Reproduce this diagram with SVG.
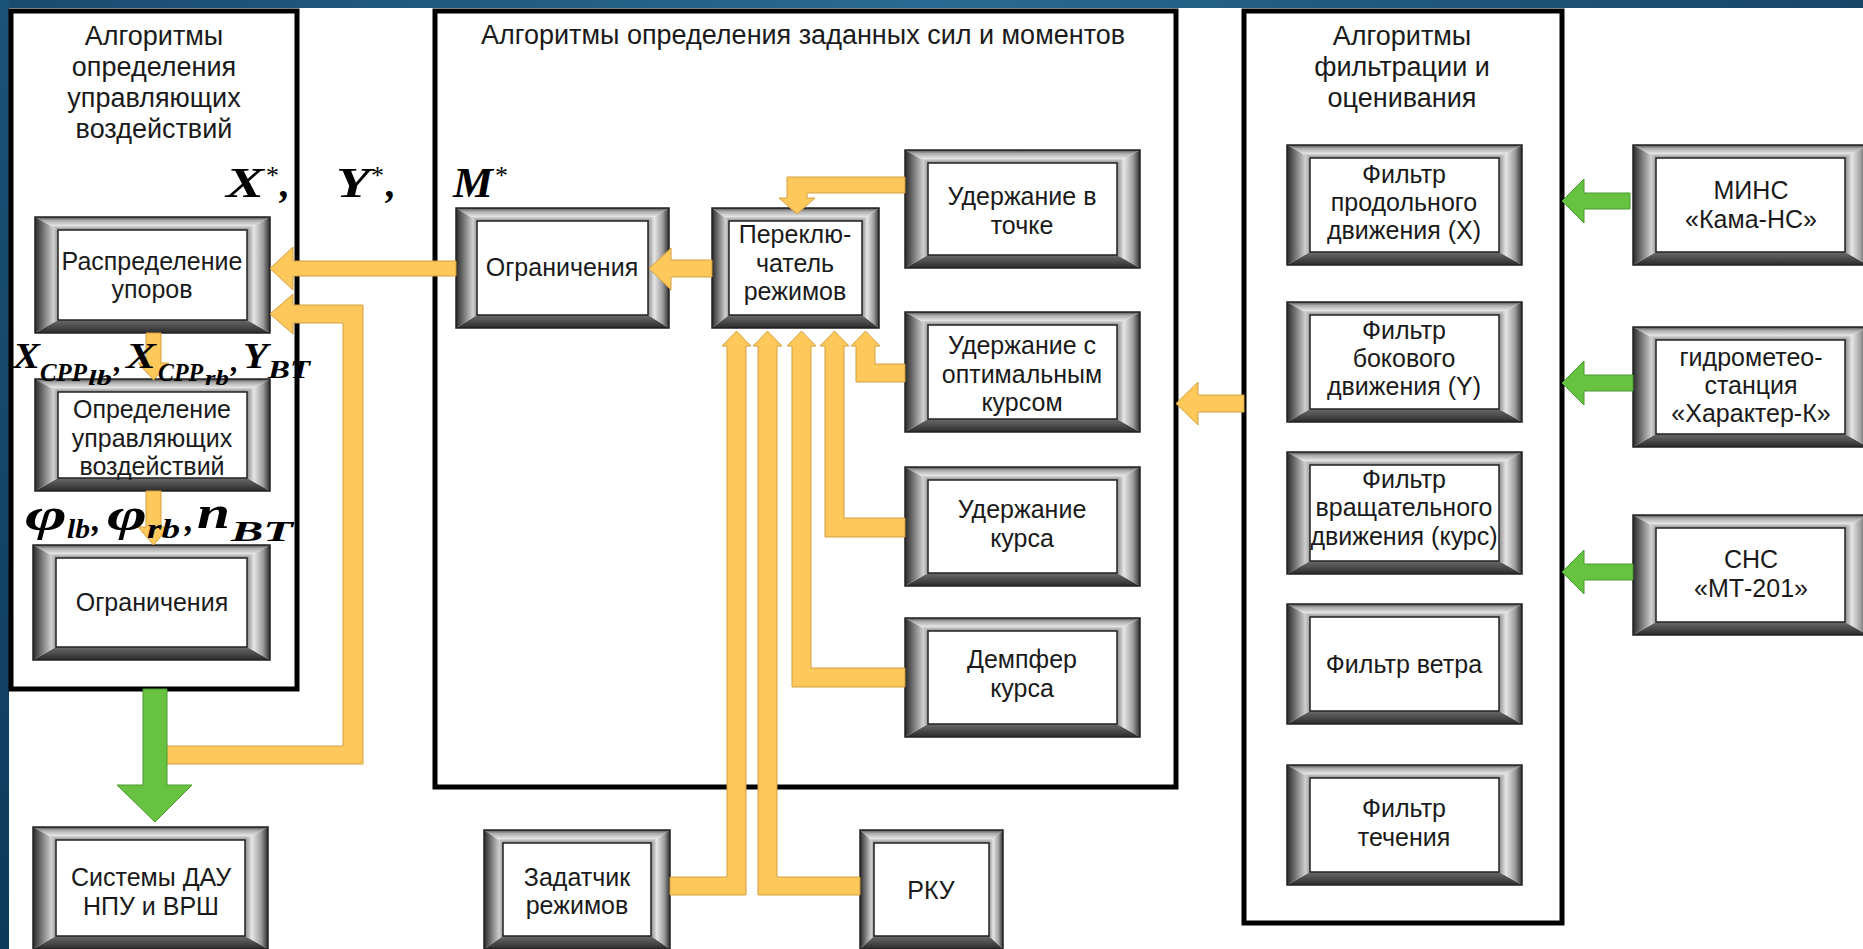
<svg xmlns="http://www.w3.org/2000/svg" width="1863" height="949" viewBox="0 0 1863 949">
<defs>
<linearGradient id="gT" x1="0" y1="0" x2="0" y2="1"><stop offset="0" stop-color="#4a4a4a"/><stop offset="0.25" stop-color="#a8a8a8"/><stop offset="0.65" stop-color="#e4e4e4"/><stop offset="1" stop-color="#8a8a8a"/></linearGradient>
<linearGradient id="gB" x1="0" y1="0" x2="0" y2="1"><stop offset="0" stop-color="#6a6a6a"/><stop offset="0.5" stop-color="#4c4c4c"/><stop offset="1" stop-color="#2a2a2a"/></linearGradient>
<linearGradient id="gL" x1="0" y1="0" x2="1" y2="0"><stop offset="0" stop-color="#2a2a2a"/><stop offset="0.4" stop-color="#7c7c7c"/><stop offset="0.8" stop-color="#cfcfcf"/><stop offset="1" stop-color="#9a9a9a"/></linearGradient>
<linearGradient id="gR" x1="0" y1="0" x2="1" y2="0"><stop offset="0" stop-color="#8a8a8a"/><stop offset="0.3" stop-color="#e6e6e6"/><stop offset="0.7" stop-color="#9c9c9c"/><stop offset="1" stop-color="#2e2e2e"/></linearGradient>
<linearGradient id="gTop" x1="0" y1="0" x2="1" y2="0"><stop offset="0" stop-color="#1a4b70"/><stop offset="0.5" stop-color="#2a6a92"/><stop offset="1" stop-color="#174669"/></linearGradient>
<linearGradient id="gLeft" x1="0" y1="0" x2="0" y2="1"><stop offset="0" stop-color="#1b5278"/><stop offset="1" stop-color="#0c3a5c"/></linearGradient>
<style>
.ft{fill:url(#gT)}
.fb{fill:url(#gB)}
.fl{fill:url(#gL)}
.fr{fill:url(#gR)}
.fi{fill:#fff;stroke:#222;stroke-width:1.5}
.fo{fill:none;stroke:#222;stroke-width:1.5}
.ctr{fill:#fff;stroke:#000;stroke-width:5}
.t{font-family:"Liberation Sans",Arial,sans-serif;font-size:25px;fill:#1a1a1a;text-anchor:middle}
.h{font-size:27px}
.m{font-family:"Liberation Serif","Times New Roman",serif;font-weight:bold;font-style:italic;fill:#000}
.ast{font-family:"Liberation Serif","Times New Roman",serif;fill:#000;font-size:26px}
.y{fill:#FFC85A;stroke:#D4A040;stroke-width:1}
.g{fill:#66C240;stroke:#4A9A2C;stroke-width:1}
</style>
</defs>

<rect x="0" y="0" width="1863" height="949" fill="#fff"/>
<rect x="0" y="0" width="1863" height="8" fill="url(#gTop)"/>
<rect x="0" y="0" width="9" height="949" fill="url(#gLeft)"/>

<g id="containers">
<g id="ctr-left"><rect class="ctr" x="11" y="11" width="286" height="678"/>
<text class="t h" x="154" y="45">Алгоритмы</text>
<text class="t h" x="154" y="76">определения</text>
<text class="t h" x="154" y="107">управляющих</text>
<text class="t h" x="154" y="138">воздействий</text></g>
<g id="ctr-mid"><rect class="ctr" x="435" y="11" width="741" height="776"/>
<text class="t h" x="803" y="44">Алгоритмы определения заданных сил и моментов</text></g>
<g id="ctr-right"><rect class="ctr" x="1244" y="11" width="318" height="912"/>
<text class="t h" x="1402" y="45">Алгоритмы</text>
<text class="t h" x="1402" y="76">фильтрации и</text>
<text class="t h" x="1402" y="107">оценивания</text></g>
</g>

<g id="labels">
<text class="m" x="226" y="197" font-size="42" textLength="38" lengthAdjust="spacingAndGlyphs">X</text><text class="ast" x="266" y="184">*</text><text class="m" x="280" y="197" font-size="40">,</text>
<text class="m" x="336" y="197" font-size="42" textLength="34" lengthAdjust="spacingAndGlyphs">Y</text><text class="ast" x="371" y="184">*</text><text class="m" x="386" y="197" font-size="40">,</text>
<text class="m" x="453" y="197" font-size="42" textLength="40" lengthAdjust="spacingAndGlyphs">M</text><text class="ast" x="495" y="184">*</text>
</g>

<g id="node-raspred">
<polygon class="ft" points="35,217 270,217 247,230 58,230"/><polygon class="fb" points="35,333 270,333 247,320 58,320"/>
<polygon class="fl" points="35,217 58,230 58,320 35,333"/><polygon class="fr" points="270,217 247,230 247,320 270,333"/>
<rect class="fi" x="58" y="230" width="189" height="90"/><rect class="fo" x="35" y="217" width="235" height="116"/>
<text class="t" x="152" y="270">Распределение</text><text class="t" x="152" y="298">упоров</text>
</g>
<g id="node-opredel">
<polygon class="ft" points="35,379 270,379 247,392 58,392"/><polygon class="fb" points="35,491 270,491 247,478 58,478"/>
<polygon class="fl" points="35,379 58,392 58,478 35,491"/><polygon class="fr" points="270,379 247,392 247,478 270,491"/>
<rect class="fi" x="58" y="392" width="189" height="86"/><rect class="fo" x="35" y="379" width="235" height="112"/>
<text class="t" x="152" y="418">Определение</text><text class="t" x="152" y="447">управляющих</text><text class="t" x="152" y="475">воздействий</text>
</g>
<g id="node-ogr-left">
<polygon class="ft" points="33,545 270,545 247,558 56,558"/><polygon class="fb" points="33,660 270,660 247,647 56,647"/>
<polygon class="fl" points="33,545 56,558 56,647 33,660"/><polygon class="fr" points="270,545 247,558 247,647 270,660"/>
<rect class="fi" x="56" y="558" width="191" height="89"/><rect class="fo" x="33" y="545" width="237" height="115"/>
<text class="t" x="152" y="611">Ограничения</text>
</g>
<g id="node-sistemy">
<polygon class="ft" points="33,827 268,827 245,840 56,840"/><polygon class="fb" points="33,949 268,949 245,936 56,936"/>
<polygon class="fl" points="33,827 56,840 56,936 33,949"/><polygon class="fr" points="268,827 245,840 245,936 268,949"/>
<rect class="fi" x="56" y="840" width="189" height="96"/><rect class="fo" x="33" y="827" width="235" height="122"/>
<text class="t" x="151" y="886">Системы ДАУ</text><text class="t" x="151" y="915">НПУ и ВРШ</text>
</g>

<g id="node-ogr-mid">
<polygon class="ft" points="456,208 669,208 648,221 477,221"/><polygon class="fb" points="456,328 669,328 648,315 477,315"/>
<polygon class="fl" points="456,208 477,221 477,315 456,328"/><polygon class="fr" points="669,208 648,221 648,315 669,328"/>
<rect class="fi" x="477" y="221" width="171" height="94"/><rect class="fo" x="456" y="208" width="213" height="120"/>
<text class="t" x="562" y="276">Ограничения</text>
</g>
<g id="node-perekl">
<polygon class="ft" points="712,208 879,208 862,221 729,221"/><polygon class="fb" points="712,328 879,328 862,315 729,315"/>
<polygon class="fl" points="712,208 729,221 729,315 712,328"/><polygon class="fr" points="879,208 862,221 862,315 879,328"/>
<rect class="fi" x="729" y="221" width="133" height="94"/><rect class="fo" x="712" y="208" width="167" height="120"/>
<text class="t" x="795" y="243">Переклю-</text><text class="t" x="795" y="272">чатель</text><text class="t" x="795" y="300">режимов</text>
</g>
<g id="node-uder-tochka">
<polygon class="ft" points="905,150 1140,150 1117,163 928,163"/><polygon class="fb" points="905,268 1140,268 1117,255 928,255"/>
<polygon class="fl" points="905,150 928,163 928,255 905,268"/><polygon class="fr" points="1140,150 1117,163 1117,255 1140,268"/>
<rect class="fi" x="928" y="163" width="189" height="92"/><rect class="fo" x="905" y="150" width="235" height="118"/>
<text class="t" x="1022" y="205">Удержание в</text><text class="t" x="1022" y="234">точке</text>
</g>
<g id="node-uder-opt">
<polygon class="ft" points="905,312 1140,312 1117,325 928,325"/><polygon class="fb" points="905,432 1140,432 1117,419 928,419"/>
<polygon class="fl" points="905,312 928,325 928,419 905,432"/><polygon class="fr" points="1140,312 1117,325 1117,419 1140,432"/>
<rect class="fi" x="928" y="325" width="189" height="94"/><rect class="fo" x="905" y="312" width="235" height="120"/>
<text class="t" x="1022" y="354">Удержание с</text><text class="t" x="1022" y="383">оптимальным</text><text class="t" x="1022" y="411">курсом</text>
</g>
<g id="node-uder-kurs">
<polygon class="ft" points="905,467 1140,467 1117,480 928,480"/><polygon class="fb" points="905,586 1140,586 1117,573 928,573"/>
<polygon class="fl" points="905,467 928,480 928,573 905,586"/><polygon class="fr" points="1140,467 1117,480 1117,573 1140,586"/>
<rect class="fi" x="928" y="480" width="189" height="93"/><rect class="fo" x="905" y="467" width="235" height="119"/>
<text class="t" x="1022" y="518">Удержание</text><text class="t" x="1022" y="547">курса</text>
</g>
<g id="node-dempfer">
<polygon class="ft" points="905,618 1140,618 1117,631 928,631"/><polygon class="fb" points="905,737 1140,737 1117,724 928,724"/>
<polygon class="fl" points="905,618 928,631 928,724 905,737"/><polygon class="fr" points="1140,618 1117,631 1117,724 1140,737"/>
<rect class="fi" x="928" y="631" width="189" height="93"/><rect class="fo" x="905" y="618" width="235" height="119"/>
<text class="t" x="1022" y="668">Демпфер</text><text class="t" x="1022" y="697">курса</text>
</g>
<g id="node-zadatchik">
<polygon class="ft" points="484,830 670,830 651,843 503,843"/><polygon class="fb" points="484,949 670,949 651,936 503,936"/>
<polygon class="fl" points="484,830 503,843 503,936 484,949"/><polygon class="fr" points="670,830 651,843 651,936 670,949"/>
<rect class="fi" x="503" y="843" width="148" height="93"/><rect class="fo" x="484" y="830" width="186" height="119"/>
<text class="t" x="577" y="886">Задатчик</text><text class="t" x="577" y="914">режимов</text>
</g>
<g id="node-rku">
<polygon class="ft" points="860,830 1003,830 989,843 874,843"/><polygon class="fb" points="860,949 1003,949 989,936 874,936"/>
<polygon class="fl" points="860,830 874,843 874,936 860,949"/><polygon class="fr" points="1003,830 989,843 989,936 1003,949"/>
<rect class="fi" x="874" y="843" width="115" height="93"/><rect class="fo" x="860" y="830" width="143" height="119"/>
<text class="t" x="931" y="899">РКУ</text>
</g>

<g id="node-f-prod">
<polygon class="ft" points="1287,145 1522,145 1499,158 1310,158"/><polygon class="fb" points="1287,265 1522,265 1499,252 1310,252"/>
<polygon class="fl" points="1287,145 1310,158 1310,252 1287,265"/><polygon class="fr" points="1522,145 1499,158 1499,252 1522,265"/>
<rect class="fi" x="1310" y="158" width="189" height="94"/><rect class="fo" x="1287" y="145" width="235" height="120"/>
<text class="t" x="1404" y="183">Фильтр</text><text class="t" x="1404" y="211">продольного</text><text class="t" x="1404" y="239">движения (X)</text>
</g>
<g id="node-f-bok">
<polygon class="ft" points="1287,302 1522,302 1499,315 1310,315"/><polygon class="fb" points="1287,422 1522,422 1499,409 1310,409"/>
<polygon class="fl" points="1287,302 1310,315 1310,409 1287,422"/><polygon class="fr" points="1522,302 1499,315 1499,409 1522,422"/>
<rect class="fi" x="1310" y="315" width="189" height="94"/><rect class="fo" x="1287" y="302" width="235" height="120"/>
<text class="t" x="1404" y="339">Фильтр</text><text class="t" x="1404" y="367">бокового</text><text class="t" x="1404" y="395">движения (Y)</text>
</g>
<g id="node-f-vrash">
<polygon class="ft" points="1287,452 1522,452 1499,465 1310,465"/><polygon class="fb" points="1287,574 1522,574 1499,561 1310,561"/>
<polygon class="fl" points="1287,452 1310,465 1310,561 1287,574"/><polygon class="fr" points="1522,452 1499,465 1499,561 1522,574"/>
<rect class="fi" x="1310" y="465" width="189" height="96"/><rect class="fo" x="1287" y="452" width="235" height="122"/>
<text class="t" x="1404" y="488">Фильтр</text><text class="t" x="1404" y="516">вращательного</text><text class="t" x="1404" y="545">движения (курс)</text>
</g>
<g id="node-f-veter">
<polygon class="ft" points="1287,604 1522,604 1499,617 1310,617"/><polygon class="fb" points="1287,724 1522,724 1499,711 1310,711"/>
<polygon class="fl" points="1287,604 1310,617 1310,711 1287,724"/><polygon class="fr" points="1522,604 1499,617 1499,711 1522,724"/>
<rect class="fi" x="1310" y="617" width="189" height="94"/><rect class="fo" x="1287" y="604" width="235" height="120"/>
<text class="t" x="1404" y="673">Фильтр ветра</text>
</g>
<g id="node-f-tech">
<polygon class="ft" points="1287,765 1522,765 1499,778 1310,778"/><polygon class="fb" points="1287,885 1522,885 1499,872 1310,872"/>
<polygon class="fl" points="1287,765 1310,778 1310,872 1287,885"/><polygon class="fr" points="1522,765 1499,778 1499,872 1522,885"/>
<rect class="fi" x="1310" y="778" width="189" height="94"/><rect class="fo" x="1287" y="765" width="235" height="120"/>
<text class="t" x="1404" y="817">Фильтр</text><text class="t" x="1404" y="846">течения</text>
</g>

<g id="node-mins">
<polygon class="ft" points="1633,145 1868,145 1845,158 1656,158"/><polygon class="fb" points="1633,265 1868,265 1845,252 1656,252"/>
<polygon class="fl" points="1633,145 1656,158 1656,252 1633,265"/><polygon class="fr" points="1868,145 1845,158 1845,252 1868,265"/>
<rect class="fi" x="1656" y="158" width="189" height="94"/><rect class="fo" x="1633" y="145" width="235" height="120"/>
<text class="t" x="1751" y="199">МИНС</text><text class="t" x="1751" y="228">«Кама-НС»</text>
</g>
<g id="node-gidro">
<polygon class="ft" points="1633,327 1868,327 1845,340 1656,340"/><polygon class="fb" points="1633,447 1868,447 1845,434 1656,434"/>
<polygon class="fl" points="1633,327 1656,340 1656,434 1633,447"/><polygon class="fr" points="1868,327 1845,340 1845,434 1868,447"/>
<rect class="fi" x="1656" y="340" width="189" height="94"/><rect class="fo" x="1633" y="327" width="235" height="120"/>
<text class="t" x="1751" y="366">гидрометео-</text><text class="t" x="1751" y="394">станция</text><text class="t" x="1751" y="422">«Характер-К»</text>
</g>
<g id="node-sns">
<polygon class="ft" points="1633,515 1868,515 1845,528 1656,528"/><polygon class="fb" points="1633,635 1868,635 1845,622 1656,622"/>
<polygon class="fl" points="1633,515 1656,528 1656,622 1633,635"/><polygon class="fr" points="1868,515 1845,528 1845,622 1868,635"/>
<rect class="fi" x="1656" y="528" width="189" height="94"/><rect class="fo" x="1633" y="515" width="235" height="120"/>
<text class="t" x="1751" y="568">СНС</text><text class="t" x="1751" y="597">«МТ-201»</text>
</g>

<g id="connectors">
<polygon class="y" points="456,261 293,261 293,247 270,268.5 293,290 293,276 456,276"/>
<polygon class="y" points="166,746 343,746 343,323 293,323 293,334 270,314 293,294 293,305 363,305 363,764 166,764"/>
<polygon class="y" points="146,333 161,333 161,363 169,363 153.5,380 138,363 146,363"/>
<polygon class="y" points="146,491 161,491 161,527 169,527 153.5,545 138,527 146,527"/>
<polygon class="y" points="712,260 671,260 671,248 649,268.5 671,290 671,277 712,277"/>
<polygon class="y" points="905,177 787,177 787,198 779,198 797,214 815,198 807,198 807,193 905,193"/>
<polygon class="y" points="736.5,331 751,346 746,346 746,895 670,895 670,877 727,877 727,346 722,346"/>
<polygon class="y" points="767.5,331 782,346 777,346 777,877 860,877 860,895 758,895 758,346 753,346"/>
<polygon class="y" points="801.5,331 816,346 811,346 811,668 905,668 905,687 792,687 792,346 787,346"/>
<polygon class="y" points="834.5,331 849,346 844,346 844,518 905,518 905,537 825,537 825,346 820,346"/>
<polygon class="y" points="865.5,331 880,346 875,346 875,364 905,364 905,382 856,382 856,346 851,346"/>
<polygon class="y" points="1244,395 1198,395 1198,382 1176,403.5 1198,425 1198,412 1244,412"/>
<polygon class="g" points="143,689 167,689 167,785 192,785 155,822 117,785 143,785"/>
<polygon class="g" points="1630,193 1584,193 1584,179 1562,201 1584,223 1584,209 1630,209"/>
<polygon class="g" points="1633,375 1584,375 1584,361 1562,383 1584,405 1584,391 1633,391"/>
<polygon class="g" points="1633,564 1584,564 1584,550 1562,572 1584,594 1584,580 1633,580"/>
</g>

<g id="formulas">
<text class="m" x="13" y="368" font-size="36" textLength="27" lengthAdjust="spacingAndGlyphs">X</text>
<text class="m" x="40" y="381" font-size="25" textLength="47" lengthAdjust="spacingAndGlyphs">CPP</text>
<text class="m" x="88" y="385" font-size="20" textLength="24" lengthAdjust="spacingAndGlyphs">lb</text>
<text class="m" x="114" y="371" font-size="30">,</text>
<text class="m" x="126" y="368" font-size="36" textLength="30" lengthAdjust="spacingAndGlyphs">X</text>
<text class="m" x="158" y="381" font-size="25" textLength="45" lengthAdjust="spacingAndGlyphs">CPP</text>
<text class="m" x="205" y="385" font-size="20" textLength="24" lengthAdjust="spacingAndGlyphs">rb</text>
<text class="m" x="231" y="371" font-size="30">,</text>
<text class="m" x="243" y="368" font-size="36" textLength="25" lengthAdjust="spacingAndGlyphs">Y</text>
<text class="m" x="268" y="378" font-size="25" textLength="42" lengthAdjust="spacingAndGlyphs">BT</text>
<text class="m" x="25" y="530" font-size="46" textLength="42" lengthAdjust="spacingAndGlyphs">φ</text>
<text class="m" x="67" y="538" font-size="28" textLength="23" lengthAdjust="spacingAndGlyphs">lb</text>
<text class="m" x="92" y="531" font-size="34">,</text>
<text class="m" x="107" y="530" font-size="46" textLength="40" lengthAdjust="spacingAndGlyphs">φ</text>
<text class="m" x="147" y="538" font-size="28" textLength="33" lengthAdjust="spacingAndGlyphs">rb</text>
<text class="m" x="185" y="531" font-size="34">,</text>
<text class="m" x="197" y="528" font-size="46" textLength="33" lengthAdjust="spacingAndGlyphs">n</text>
<text class="m" x="231" y="541" font-size="30" textLength="62" lengthAdjust="spacingAndGlyphs">BT</text>
</g>
</svg>
